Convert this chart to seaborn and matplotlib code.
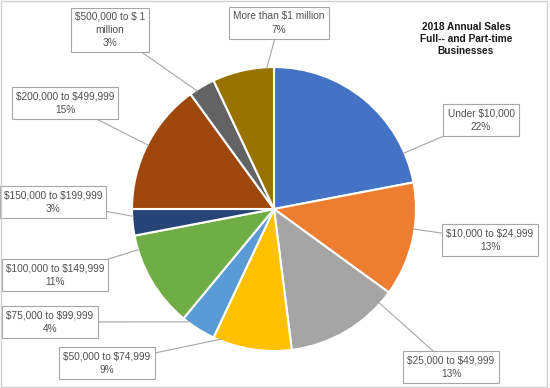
import numpy as np
import seaborn as sns
import matplotlib.pyplot as plt
from matplotlib.patches import Rectangle

# data
categories = ['Under $10,000', '$10,000 to $24,999', '$25,000 to $49,999',
              '$50,000 to $74,999', '$75,000 to $99,999', '$100,000 to $149,999',
              '$150,000 to $199,999', '$200,000 to $499,999', '$500,000 to $ 1\nmillion',
              'More than $1 million']
shares = [22, 13, 13, 9, 4, 11, 3, 15, 3, 7]
colors = ['#4472C4', '#ED7D31', '#A5A5A5', '#FFC000', '#5B9BD5',
          '#70AD47', '#264478', '#9E480E', '#636363', '#997300']

# label box centres (pixel coords, y measured from bottom)
label_pos = [(481, 268), (490, 148), (451, 21), (107, 25), (50, 66),
             (55, 113), (53, 186), (65, 285), (110, 358), (279, 365)]

sns.set_theme(style='white')
plt.rcParams['font.family'] = ['Liberation Sans', 'DejaVu Sans']
plt.rcParams['text.parse_math'] = False

fig = plt.figure(figsize=(5.5, 3.88), dpi=100)
ax = fig.add_axes([0, 0, 1, 1])

cx, cy, r = 274, 179, 142
wedges, _ = ax.pie(shares, colors=colors, startangle=90, counterclock=False,
                   center=(cx, cy), radius=r, frame=True,
                   wedgeprops=dict(edgecolor='white', linewidth=1.5))
ax.set_xlim(0, 550)
ax.set_ylim(0, 388)
ax.set_aspect('equal')
ax.axis('off')

for w, lab, val, (tx, ty) in zip(wedges, categories, shares, label_pos):
    a1, a2 = sorted([w.theta1, w.theta2])
    ang = np.degrees(np.arctan2(ty - cy, tx - cx))
    # closest point on this wedge's arc to the label
    cand = [ang + k * 360 for k in (-1, 0, 1)]
    inside = [c for c in cand if a1 <= c <= a2]
    if inside:
        t = inside[0]
    else:
        t = min([a1 + 3, a2 - 3], key=lambda e: min(abs(((e - c) + 180) % 360 - 180) for c in cand))
    px = cx + r * 0.99 * np.cos(np.radians(t))
    py = cy + r * 0.99 * np.sin(np.radians(t))
    ax.annotate(f'{lab}\n{val}%', xy=(px, py), xytext=(tx, ty),
                ha='center', va='center', fontsize=7.3, color='#505050',
                linespacing=1.4,
                bbox=dict(boxstyle='square,pad=0.4', fc='white', ec='#A6A6A6', lw=0.8),
                arrowprops=dict(arrowstyle='-', color='#A6A6A6', lw=0.8,
                                shrinkA=0, shrinkB=0))

ax.text(466, 349, '2018 Annual Sales\nFull-- and Part-time\nBusinesses',
        ha='center', va='center', fontsize=7.3, fontweight='bold', color='#1a1a1a',
        linespacing=1.25)

fig.patches.append(Rectangle((0.002, 0.003), 0.993, 0.994, transform=fig.transFigure,
                             fill=False, ec='#D0D0D0', lw=1))

plt.savefig('out.png', dpi=100)
